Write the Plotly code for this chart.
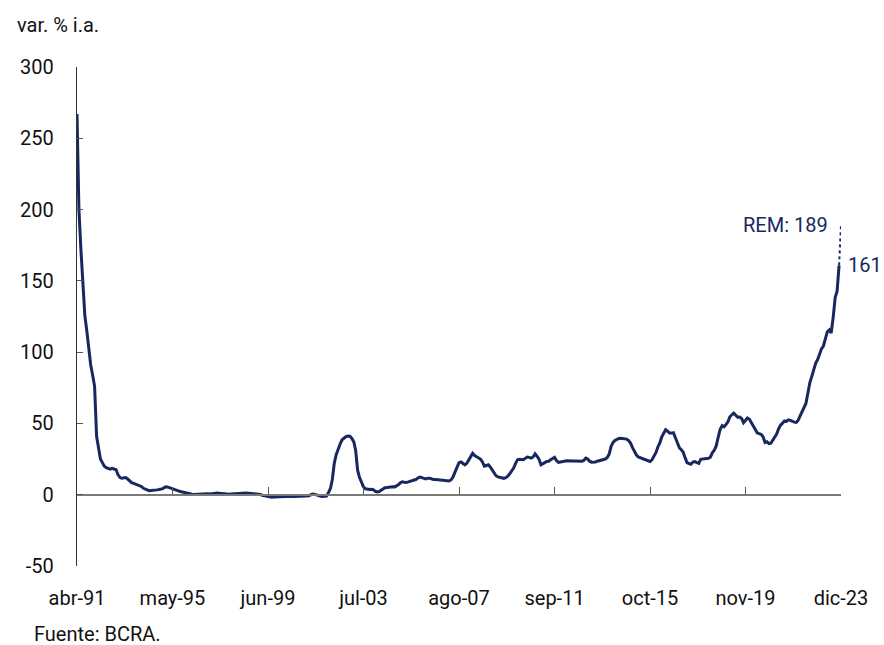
import pandas as pd
import plotly.graph_objects as go

# Year-over-year CPI variation (%), monthly, Apr-1991 .. Nov-2023
y1991 = [267.0, 200.0, 172.0, 144.0, 126.0, 115.0, 102.0, 91.0, 84.0]  # Apr-Dec
y1992 = [76.0, 41.0, 33.0, 25.0, 22.5, 20.0, 19.0, 18.5, 18.0, 18.5, 18.0, 17.5]
y1993 = [14.0, 12.0, 11.5, 11.5, 12.0, 11.0, 9.5, 8.5, 8.0, 7.5, 7.0, 6.5]
y1994 = [5.8, 4.5, 3.8, 3.2, 2.8, 3.0, 3.0, 3.2, 3.4, 3.6, 3.8, 4.2]
y1995 = [5.3, 5.6, 5.2, 4.8, 4.3, 3.8, 3.2, 2.7, 2.2, 1.8, 1.5, 1.4]
y1996 = [1.0, 0.6, 0.3, 0.2, 0.3, 0.4, 0.6, 0.6, 0.7, 0.8, 0.6, 0.5]
y1997 = [0.8, 0.8, 1.0, 1.2, 1.0, 0.8, 0.6, 0.5, 0.5, 0.4, 0.5, 0.6]
y1998 = [0.7, 1.0, 1.2, 1.0, 1.1, 1.2, 1.2, 1.1, 1.0, 0.9, 0.9, 0.8]
y1999 = [0.6, 0.2, -0.4, -0.7, -1.2, -1.6, -2.0, -1.8, -1.6, -1.5, -1.4, -1.3]
y2000 = [-1.2, -1.2, -1.1, -1.3, -1.2, -1.1, -1.2, -1.0, -1.0, -1.1, -1.0, -0.9]
y2001 = [-0.8, -1.2, -0.8, 0.0, 0.4, 0.2, -0.4, -0.8, -1.1, -1.3, -1.3, -1.0]
y2002 = [1.6, 4.5, 10.5, 22.0, 28.0, 32.5, 35.5, 38.5, 40.0, 40.7, 41.2, 41.0]
y2003 = [39.5, 37.0, 31.0, 17.0, 12.0, 8.5, 5.5, 4.2, 3.7, 3.7, 3.8, 3.6]
y2004 = [2.4, 2.0, 2.2, 3.1, 4.2, 4.9, 5.0, 5.3, 5.8, 5.6, 5.5, 6.1]
y2005 = [7.2, 8.5, 9.1, 8.8, 8.6, 9.0, 9.6, 9.7, 10.3, 10.7, 11.9, 12.3]
y2006 = [12.1, 11.5, 11.1, 11.6, 11.5, 11.0, 10.6, 10.7, 10.5, 10.4, 10.1, 9.8]
y2007 = [10.0, 9.8, 9.6, 10.5, 12.6, 16.0, 20.0, 22.5, 23.0, 22.0, 21.0, 22.0]
y2008 = [24.5, 27.0, 29.0, 27.5, 26.5, 26.0, 25.0, 23.0, 20.0, 20.5, 21.0, 19.5]
y2009 = [17.5, 15.0, 13.3, 12.5, 12.0, 11.7, 11.5, 12.0, 13.0, 14.7, 16.5, 18.7]
y2010 = [22.0, 24.5, 24.8, 24.5, 24.5, 25.5, 26.4, 26.2, 25.7, 26.5, 28.7, 27.0]
y2011 = [25.0, 21.0, 22.0, 22.5, 23.3, 23.5, 24.5, 25.5, 26.2, 24.0, 22.7, 23.0]
y2012 = [23.5, 23.5, 23.8, 23.8, 23.6, 23.5, 23.5, 23.5, 23.4, 23.3, 23.5, 24.0]
y2013 = [25.7, 25.0, 23.5, 22.8, 22.7, 23.0, 23.5, 23.8, 24.0, 24.5, 25.0, 26.0]
y2014 = [28.5, 33.9, 36.5, 38.0, 39.0, 39.5, 39.6, 39.5, 39.4, 39.0, 38.0, 36.2]
y2015 = [33.0, 30.0, 28.0, 26.5, 26.0, 25.3, 25.0, 24.5, 24.0, 23.3, 24.5, 27.0]
y2016 = [29.5, 33.5, 36.2, 40.5, 43.5, 45.5, 44.5, 43.2, 43.2, 43.5, 40.0, 36.0]
y2017 = [33.0, 31.5, 30.0, 26.0, 22.5, 21.9, 21.4, 22.9, 23.2, 22.5, 22.0, 24.8]
y2018 = [25.0, 25.4, 25.4, 25.5, 26.3, 29.5, 31.2, 34.4, 40.5, 45.9, 48.5, 47.6]
y2019 = [49.3, 51.3, 54.7, 55.8, 57.3, 55.8, 54.4, 54.5, 53.5, 50.5, 52.1, 53.8]
y2020 = [52.9, 50.3, 48.4, 45.6, 43.4, 42.8, 42.4, 40.7, 36.6, 37.2, 35.8, 36.1]
y2021 = [38.5, 40.7, 42.6, 46.3, 48.8, 50.2, 51.8, 51.4, 52.5, 52.1, 51.2, 50.9]
y2022 = [50.7, 52.3, 55.1, 58.0, 60.7, 64.0, 71.0, 78.5, 83.0, 88.0, 92.4, 94.8]
y2023 = [98.8, 102.5, 104.3, 108.8, 114.2, 115.6, 113.4, 124.4, 138.3, 142.7, 160.9]  # Jan-Nov

rem_dec_2023 = 189.0
last_label = "161"
rem_label = "REM: 189"

tick_dates = ["1991-04-01", "1995-05-01", "1999-06-01", "2003-07-01", "2007-08-01",
              "2011-09-01", "2015-10-01", "2019-11-01", "2023-12-01"]
tick_labels = ["abr-91", "may-95", "jun-99", "jul-03", "ago-07",
               "sep-11", "oct-15", "nov-19", "dic-23"]
y_ticks = [-50, 0, 50, 100, 150, 200, 250, 300]
y_tick_labels = ["-50", "0", "50", "100", "150", "200", "250", "300"]

years = [y1991, y1992, y1993, y1994, y1995, y1996, y1997, y1998, y1999, y2000,
         y2001, y2002, y2003, y2004, y2005, y2006, y2007, y2008, y2009, y2010,
         y2011, y2012, y2013, y2014, y2015, y2016, y2017, y2018, y2019, y2020,
         y2021, y2022, y2023]
values = [v for yr in years for v in yr]
dates = pd.date_range("1991-04-01", periods=len(values), freq="MS")
rem_dates = [dates[-1], dates[-1] + pd.DateOffset(months=1)]
rem_vals = [values[-1], rem_dec_2023]

NAVY = "#18285F"
FONT = "Roboto"
TXT = "#111111"

fig = go.Figure()
fig.add_trace(go.Scatter(x=dates, y=values, mode="lines",
                         line=dict(color=NAVY, width=3), showlegend=False,
                         hoverinfo="skip"))
fig.add_trace(go.Scatter(x=rem_dates, y=rem_vals, mode="lines", xaxis="x2",
                         line=dict(color=NAVY, width=2, dash="dot"),
                         showlegend=False, hoverinfo="skip"))

xrange = [tick_dates[0], tick_dates[-1]]
fig.update_layout(
    width=884, height=645,
    margin=dict(l=77, r=43, t=67, b=79),
    paper_bgcolor="white", plot_bgcolor="white",
    font=dict(family=FONT, size=20, color=TXT),
    xaxis=dict(type="date", range=xrange, tickvals=tick_dates, ticktext=tick_labels,
               showline=False, ticks="", showgrid=False, zeroline=False,
               ticklabelstandoff=18, tickfont=dict(size=20, color=TXT)),
    xaxis2=dict(type="date", range=xrange, overlaying="x", anchor="free",
                position=50 / 350, tickvals=tick_dates, showticklabels=False,
                showline=True, linecolor="#7a7a7a", linewidth=1.6,
                ticks="inside", ticklen=7, tickcolor="#555555", tickwidth=1.2,
                showgrid=False, zeroline=False),
    yaxis=dict(range=[-50, 300], tickvals=y_ticks, ticktext=y_tick_labels,
               showline=True, linecolor="#333333", linewidth=1.4, ticks="inside",
               ticklen=6, tickcolor="#555555", tickwidth=1.2, showgrid=False,
               zeroline=False, ticklabelstandoff=18,
               tickfont=dict(size=20, color=TXT)),
    annotations=[
        dict(text="var. % i.a.", xref="paper", yref="paper", x=-0.0812, y=1.084,
             xanchor="left", yanchor="middle", showarrow=False,
             font=dict(size=20, color=TXT)),
        dict(text="Fuente: BCRA.", xref="paper", yref="paper", x=-0.0589, y=-0.137,
             xanchor="left", yanchor="middle", showarrow=False,
             font=dict(size=20, color=TXT)),
        dict(text=rem_label, x=rem_dates[1], y=rem_dec_2023, xref="x", yref="y",
             xanchor="right", yanchor="middle", xshift=-11, showarrow=False,
             font=dict(size=20, color=NAVY)),
        dict(text=last_label, x=rem_dates[0], y=values[-1], xref="x", yref="y",
             xanchor="left", yanchor="middle", xshift=7, showarrow=False,
             font=dict(size=20, color=NAVY)),
    ],
)

fig.write_html("out.html",
               config={"displayModeBar": False},
               post_script="document.body.style.margin='0';"
                           "document.body.style.overflow='hidden';")
